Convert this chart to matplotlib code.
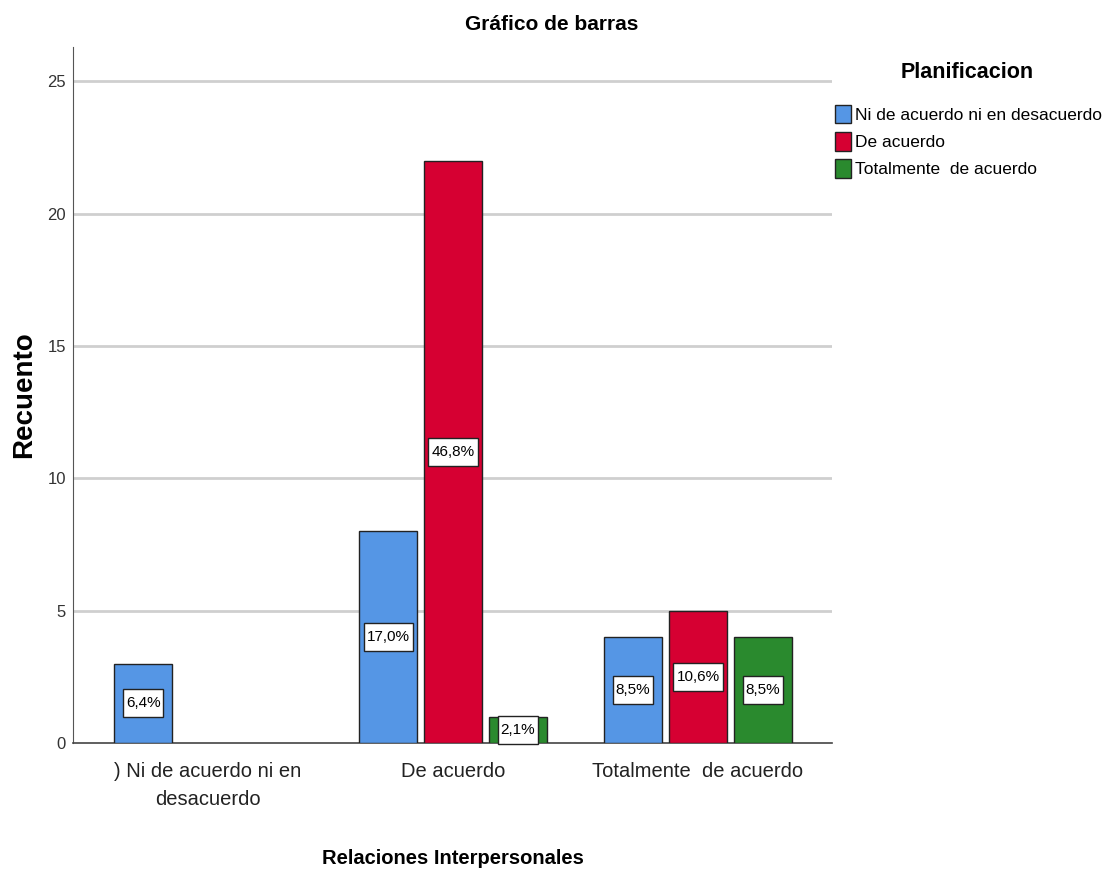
import matplotlib
matplotlib.use("Agg")
import matplotlib.pyplot as plt
from matplotlib import font_manager
from matplotlib.path import Path
import numpy as np

categories = [") Ni de acuerdo ni en\ndesacuerdo", "De acuerdo", "Totalmente  de acuerdo"]
series_names = ["Ni de acuerdo ni en desacuerdo", "De acuerdo", "Totalmente  de acuerdo"]
counts_ni = [3, 8, 4]
counts_de = [0, 22, 5]
counts_tot = [0, 1, 4]
pct_ni = ["6,4%", "17,0%", "8,5%"]
pct_de = ["", "46,8%", "10,6%"]
pct_tot = ["", "2,1%", "8,5%"]
colors = ["#5596E5", "#D60032", "#2A8A2E"]
yticks = [0, 5, 10, 15, 20, 25]

avail = {f.name for f in font_manager.fontManager.ttflist}
fam = [f for f in ["Liberation Sans Narrow", "Liberation Sans", "DejaVu Sans"] if f in avail]
plt.rcParams["font.family"] = fam

W, H = 1105, 875
fig = plt.figure(figsize=(W / 100, H / 100), dpi=100)
ax_l, ax_r, ax_t, ax_b = 73, 832, 47, 743
ax = fig.add_axes([ax_l / W, 1 - ax_b / H, (ax_r - ax_l) / W, (ax_b - ax_t) / H])


def label_box(x0, y0, width, height, mutation_size):
    px = 0.2 * mutation_size
    py = 0.45 * mutation_size
    x0, y0 = x0 - px, y0 - py
    x1, y1 = x0 + width + 2 * px, y0 + height + 2 * py
    return Path([(x0, y0), (x1, y0), (x1, y1), (x0, y1), (x0, y0)], closed=True)


x = np.arange(len(categories))
step = 0.265
w = 0.237
series = [(counts_ni, pct_ni), (counts_de, pct_de), (counts_tot, pct_tot)]
for i, (vals, pcts) in enumerate(series):
    xs = x + (i - 1) * step
    vals = np.array(vals, dtype=float)
    keep = vals > 0
    ax.bar(xs[keep], vals[keep], width=w, color=colors[i], edgecolor="#222222", linewidth=1.0,
           label=series_names[i], zorder=3)
    for xx, v, p in zip(xs, vals, pcts):
        if v > 0 and p:
            ax.text(xx, v / 2, p, ha="center", va="center", fontsize=11, zorder=5,
                    bbox=dict(boxstyle=label_box, fc="white", ec="#222222", lw=1.0))

ax.set_xlim(-0.551, 2.547)
ax.set_ylim(0, 26.3)
ax.set_yticks(yticks)
ax.set_yticklabels([str(t) for t in yticks], fontsize=12, color="#333333")
ax.set_xticks(x)
ax.set_xticklabels(categories, fontsize=14.5, color="#222222", linespacing=1.55)
ax.tick_params(axis="y", length=0, pad=5)
ax.tick_params(axis="x", length=0, pad=14)
for yv in yticks[1:]:
    ax.axhline(yv, color="#CFCFCF", lw=2.0, zorder=1)
for s in ["top", "right"]:
    ax.spines[s].set_visible(False)
ax.spines["left"].set_color("#555555")
ax.spines["bottom"].set_color("#444444")
ax.spines["bottom"].set_linewidth(1.2)

ax.set_ylabel("Recuento", fontsize=20, fontweight="bold", va="center")
ax.yaxis.set_label_coords((24 - ax_l) / (ax_r - ax_l), 0.5)
ax.set_xlabel("Relaciones Interpersonales", fontsize=14.5, fontweight="bold", va="center")
ax.xaxis.set_label_coords(0.5, (ax_b - 858) / (ax_b - ax_t))
fig.text(552 / W, 1 - 24 / H, "Gráfico de barras", ha="center", va="center", fontsize=15, fontweight="bold")
fig.text(967 / W, 1 - 73 / H, "Planificacion", ha="center", va="center", fontsize=15.5, fontweight="bold")

leg = fig.legend(*ax.get_legend_handles_labels(), loc="upper left",
                 bbox_to_anchor=(835 / W, 1 - 105 / H), bbox_transform=fig.transFigure,
                 frameon=False, fontsize=12.5, handlelength=0.92, handleheight=1.26,
                 handletextpad=0.25, labelspacing=0.5, borderpad=0, borderaxespad=0)
fig.savefig("out.png", dpi=100)
